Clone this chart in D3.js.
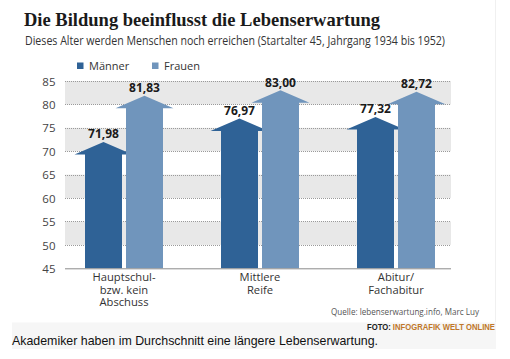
<!DOCTYPE html>
<html><head><meta charset="utf-8">
<script src="https://cdn.jsdelivr.net/npm/d3@7"></script>
<style>
html,body{margin:0;padding:0;background:#fff;}
svg{display:block;}
</style></head>
<body>
<svg id="chart" width="510" height="359"></svg>
<script>
const categories = ["Hauptschul-\nbzw. kein\nAbschuss", "Mittlere\nReife", "Abitur/\nFachabitur"];
const seriesNames = ["Männer", "Frauen"];
const maenner = [71.98, 76.97, 77.32];
const frauen = [81.83, 83.00, 82.72];
const yTicks = [45, 50, 55, 60, 65, 70, 75, 80, 85];
const colors = ["#2f6296", "#7095bc"];

const svg = d3.select("#chart");
const de = d3.formatLocale({decimal: ",", thousands: ".", grouping: [3], currency: ["", "€"]});
const fmt = de.format(".2f");

const plotL = 65, plotR = 451;
const y = d3.scaleLinear().domain([45, 85]).range([268.3, 81]);
const x = d3.scaleBand().domain(categories).range([56, 464]).padding(0);
const xs = d3.scaleBand().domain(seriesNames).range([-41, 41]).padding(0);

// right border of graphic
svg.append("line").attr("x1", 495.5).attr("x2", 495.5).attr("y1", 0).attr("y2", 322)
  .attr("stroke", "#f0f0f0");

// title
svg.append("text").attr("x", 24).attr("y", 25.5)
  .attr("font-family", "'Liberation Serif', 'DejaVu Serif', serif")
  .attr("font-size", 19.5).attr("font-weight", "bold").attr("fill", "#1a1a1a")
  .attr("textLength", 356).attr("lengthAdjust", "spacingAndGlyphs")
  .text("Die Bildung beeinflusst die Lebenserwartung");
svg.append("text").attr("x", 25).attr("y", 45)
  .attr("font-family", "'Open Sans', sans-serif")
  .attr("font-size", 12).attr("fill", "#333")
  .attr("textLength", 420).attr("lengthAdjust", "spacingAndGlyphs")
  .text("Dieses Alter werden Menschen noch erreichen (Startalter 45, Jahrgang 1934 bis 1952)");

// legend
const legX = [77, 152];
seriesNames.forEach((s, i) => {
  svg.append("rect").attr("x", legX[i]).attr("y", 62.5).attr("width", 6.5).attr("height", 6.5).attr("fill", colors[i]);
  svg.append("text").attr("x", legX[i] + 12).attr("y", 70)
    .attr("font-family", "'Open Sans', sans-serif").attr("font-size", 11).attr("fill", "#333")
    .text(s);
});

// grey bands
const bands = [[80, 85], [70, 75], [60, 65], [50, 55]];
svg.append("g").selectAll("rect").data(bands).join("rect")
  .attr("x", plotL).attr("width", plotR - plotL)
  .attr("y", d => y(d[1])).attr("height", d => y(d[0]) - y(d[1]))
  .attr("fill", "#e8e8e8");

// gridlines
svg.append("g").selectAll("line").data(yTicks.slice(1)).join("line")
  .attr("x1", plotL).attr("x2", plotR)
  .attr("y1", d => Math.round(y(d)) + 0.5).attr("y2", d => Math.round(y(d)) + 0.5)
  .attr("stroke", "#9a9a9a").attr("stroke-width", 1).attr("stroke-dasharray", "1,1");

// y axis labels
const yAxis = d3.axisLeft(y).tickValues(yTicks).tickSize(0).tickPadding(0);
const gy = svg.append("g").attr("transform", "translate(55.5,0)").call(yAxis);
gy.select(".domain").remove();
gy.selectAll("text").attr("font-family", "'Open Sans', sans-serif").attr("font-size", 11.5)
  .attr("fill", "#444").attr("dy", "0.36em");

// arrows
const shaftHalf = 18.5, headHalf = 29, headH = 12.5;
function arrowPath(cx, v) {
  const yb = y(45), yt = y(v), yh = yt + headH;
  return `M${cx - shaftHalf},${yb}L${cx - shaftHalf},${yh}L${cx - headHalf},${yh}L${cx},${yt}L${cx + headHalf},${yh}L${cx + shaftHalf},${yh}L${cx + shaftHalf},${yb}Z`;
}
const rows = [];
categories.forEach((c, i) => {
  rows.push({cat: c, s: "Männer", v: maenner[i], col: colors[0]});
  rows.push({cat: c, s: "Frauen", v: frauen[i], col: colors[1]});
});
const cxOf = d => x(d.cat) + x.bandwidth() / 2 + xs(d.s) + xs.bandwidth() / 2;
svg.append("g").selectAll("path").data(rows).join("path")
  .attr("d", d => arrowPath(cxOf(d), d.v)).attr("fill", d => d.col);

svg.append("g").selectAll("text").data(rows).join("text")
  .attr("x", cxOf).attr("y", d => y(d.v) - 3.5)
  .attr("text-anchor", "middle")
  .attr("font-family", "'Open Sans', sans-serif").attr("font-size", 12).attr("font-weight", "bold")
  .attr("fill", "#1a1a1a")
  .text(d => fmt(d.v));

// x axis line
svg.append("line").attr("x1", plotL).attr("x2", plotR)
  .attr("y1", y(45) + 0.5).attr("y2", y(45) + 0.5).attr("stroke", "#8a8a8a").attr("stroke-width", 1);

// category labels, one text per line
const catLines = [];
categories.forEach(c => c.split("\n").forEach((line, i) => catLines.push({cat: c, line, i})));
svg.append("g").selectAll("text").data(catLines).join("text")
  .attr("x", d => x(d.cat) + x.bandwidth() / 2).attr("y", d => 281 + d.i * 12.7)
  .attr("text-anchor", "middle")
  .attr("font-family", "'Open Sans', sans-serif").attr("font-size", 11.2).attr("fill", "#333")
  .text(d => d.line);

// source
svg.append("text").attr("x", 479).attr("y", 315).attr("text-anchor", "end")
  .attr("font-family", "'Open Sans', sans-serif").attr("font-size", 9.5).attr("fill", "#555")
  .attr("textLength", 148).attr("lengthAdjust", "spacingAndGlyphs")
  .text("Quelle: lebenserwartung.info, Marc Luy");

// footer
svg.append("rect").attr("x", 12).attr("y", 322.5).attr("width", 484).attr("height", 26.5).attr("fill", "#f6f6f6");
const ft = svg.append("text").attr("x", 495).attr("y", 330).attr("text-anchor", "end")
  .attr("font-family", "'Liberation Sans', Arial, sans-serif").attr("font-size", 8.5).attr("font-weight", "bold")
  .attr("textLength", 128).attr("lengthAdjust", "spacingAndGlyphs");
ft.append("tspan").attr("fill", "#222").text("FOTO: ");
ft.append("tspan").attr("fill", "#c0782a").text("INFOGRAFIK WELT ONLINE");
svg.append("text").attr("x", 12).attr("y", 345)
  .attr("font-family", "'Liberation Sans', Arial, sans-serif").attr("font-size", 13).attr("fill", "#111")
  .attr("textLength", 366).attr("lengthAdjust", "spacingAndGlyphs")
  .text("Akademiker haben im Durchschnitt eine längere Lebenserwartung.");
</script>
</body></html>
